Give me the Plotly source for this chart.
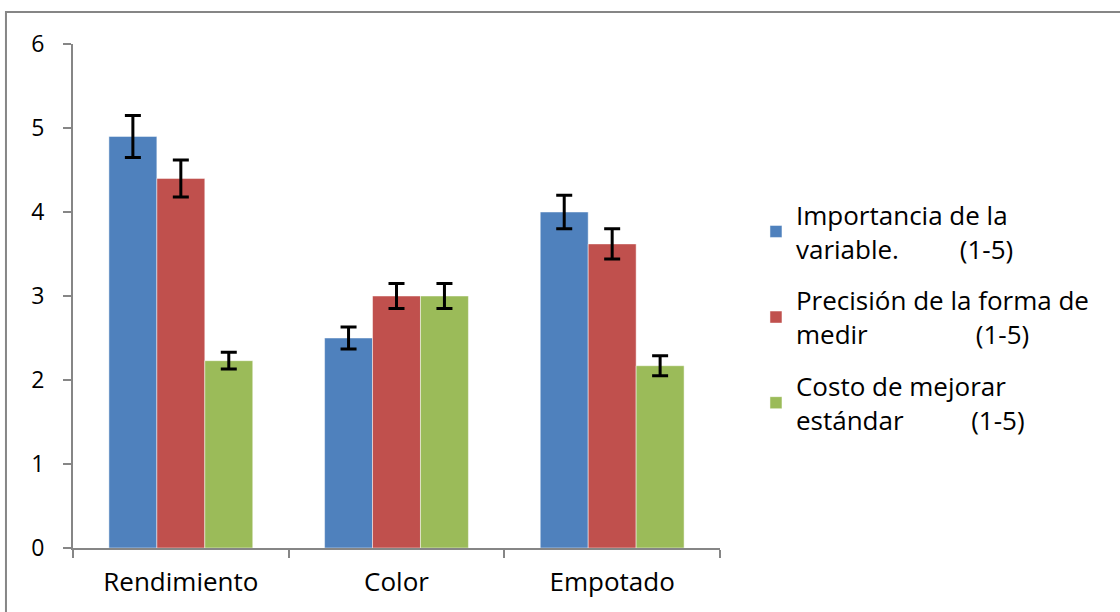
import plotly.graph_objects as go

categories = ["Rendimiento", "Color", "Empotado"]
series_names = [
    "Importancia de la<br>variable.         (1-5)",
    "Precisión de la forma de<br>medir                (1-5)",
    "Costo de mejorar<br>estándar          (1-5)",
]
importancia = [4.9, 2.5, 4.0]
importancia_err = [0.25, 0.13, 0.2]
precision = [4.4, 3.0, 3.62]
precision_err = [0.22, 0.15, 0.18]
costo = [2.23, 3.0, 2.17]
costo_err = [0.1, 0.15, 0.12]
colors = ["#4F81BD", "#C0504D", "#9BBB59"]

fig = go.Figure()
for i, (name, vals, errs, col) in enumerate(zip(series_names,
                                  [importancia, precision, costo],
                                  [importancia_err, precision_err, costo_err],
                                  colors)):
    fig.add_trace(go.Bar(
        x=categories, y=vals, name=name, legendgroup=f"g{i}",
        marker=dict(color=col, line=dict(color="rgba(255,255,255,0.6)", width=0.8)),
        error_y=dict(type="data", array=errs, visible=True, color="black",
                     thickness=3, width=8),
    ))

font_family = "Open Sans"
fig.update_layout(
    width=1120, height=612,
    margin=dict(l=73, r=400, t=44, b=64),
    paper_bgcolor="white", plot_bgcolor="white",
    barmode="group", bargap=0.333, bargroupgap=0,
    font=dict(family=font_family, size=22, color="black"),
    showlegend=True,
    legend=dict(x=1.0556, y=0.708, xanchor="left", yanchor="top",
                font=dict(family=font_family, size=26, color="black"),
                tracegroupgap=15, itemwidth=30, bgcolor="rgba(0,0,0,0)"),
    xaxis=dict(showline=True, linecolor="#868686", linewidth=2,
               ticks="outside", ticklen=8, tickcolor="#868686", tickwidth=2,
               tickson="boundaries", showgrid=False, ticklabelstandoff=10,
               tickfont=dict(family=font_family, size=26, color="black")),
    yaxis=dict(range=[0, 6], dtick=1, showline=True, linecolor="#868686", linewidth=2,
               ticks="outside", ticklen=8, tickcolor="#868686", tickwidth=2,
               showgrid=False, zeroline=False, ticklabelstandoff=14,
               tickfont=dict(family=font_family, size=23, color="black")),
)
fig.add_shape(type="rect", xref="paper", yref="paper",
              x0=-0.1036, y0=-0.3, x1=1.8, y1=1.0635,
              line=dict(color="#868686", width=2), fillcolor="rgba(0,0,0,0)", layer="below")
fig.write_html("out.html", config={"displayModeBar": False},
               post_script="document.body.style.margin='0';document.body.style.padding='0';")
